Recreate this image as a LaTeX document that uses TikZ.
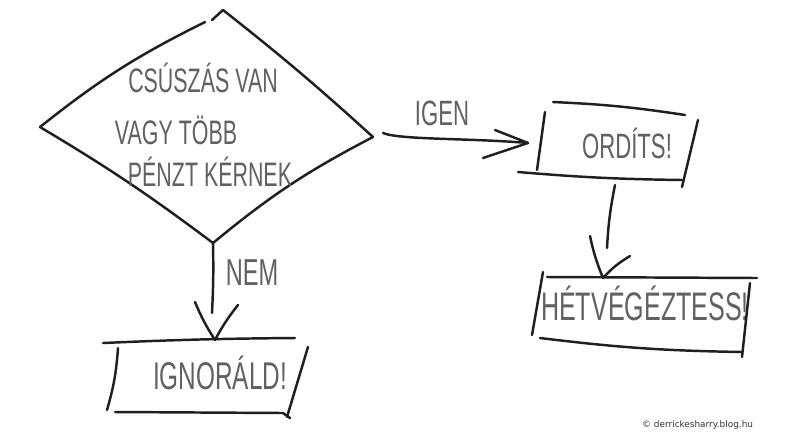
\documentclass[tikz,border=0pt]{standalone}
\usepackage{fontspec}
\setmainfont{Liberation Sans}
\newfontfamily\handfont[FakeStretch=0.63]{Liberation Sans}
\newfontfamily\footfont{DejaVu Sans}
\begin{document}
\begin{tikzpicture}[x=0.03cm,y=-0.03cm,
  pen/.style={line width=2.1pt,line cap=round,line join=round,draw=black!88},
  hand/.style={font=\handfont\fontsize{#1}{#1}\selectfont,text=black!62,inner sep=0pt},
  hand/.default=29]
\useasboundingbox[fill=white] (0,0) rectangle (787,441);

% decision diamond
\coordinate (dT) at (223,10);
\coordinate (dR) at (373,137);
\coordinate (dB) at (213,243);
\coordinate (dL) at (40,127);
\draw[pen] (dL) to[bend left=6] (205,22);
\draw[pen] (212,20) -- (dT) to[bend left=2] (dR) to[bend right=6] (dB) to[bend right=3] (dL);
\node[hand] (q1) at (203,78) {CSÚSZÁS VAN};
\node[hand] (q2) at (176,130) {VAGY TÖBB};
\node[hand] (q3) at (210,172) {PÉNZT KÉRNEK};

% ORDITS box
\node[hand=30] (ord) at (627,143) {ORDÍTS!};
\draw[pen] (553,102) to[bend left=3] (685,115);
\draw[pen] (545,112) -- (537,170);
\draw[pen] (518,172) to[bend right=2] (682,180);
\draw[pen] (698,120) -- (682,187);

% HETVEGEZTESS box
\node[hand=34] (het) at (645,303) {HÉTVÉGÉZTESS!};
\draw[pen] (547,277) -- (757,278);
\draw[pen] (543,272) -- (532,335);
\draw[pen] (540,338) to[bend right=3] (742,352);
\draw[pen] (750,283) -- (742,357);

% IGNORALD box
\node[hand=33] (ign) at (220,373) {IGNORÁLD!};
\draw[pen] (103,343) to[bend left=1] (295,338);
\draw[pen] (118,348) to[bend left=6] (107,410);
\draw[pen] (115,412) -- (283,413) -- (290,418);
\draw[pen] (308,347) -- (287,417);

% IGEN arrow
\coordinate (yS) at (383,133);
\coordinate (yT) at (528,143);
\draw[pen] (yS) .. controls (400,140) and (470,138) .. (yT);
\draw[pen] (495,130) -- (yT) -- (483,158);
\node[hand=30] (igen) at (442,113) {IGEN};

% down arrow ORDITS -> HETVEGEZTESS
\coordinate (oS) at (615,185);
\coordinate (oT) at (603,278);
\draw[pen] (oS) to[bend right=4] (607,248);
\draw[pen] (590,236) to[bend right=5] (oT) to[bend left=8] (630,256);

% NEM arrow
\coordinate (nT) at (215,340);
\draw[pen] (dB) to[bend left=2] (212,313);
\draw[pen] (195,302) to[bend right=5] (nT) to[bend left=5] (238,305);
\node[hand=32] (nem) at (252,273) {NEM};

% footer
\node[font=\footfont\fontsize{7.6}{8}\selectfont,text=black!80,anchor=west,inner sep=0pt] (foot) at (642,425) {© derrickesharry.blog.hu};
\end{tikzpicture}
\end{document}
